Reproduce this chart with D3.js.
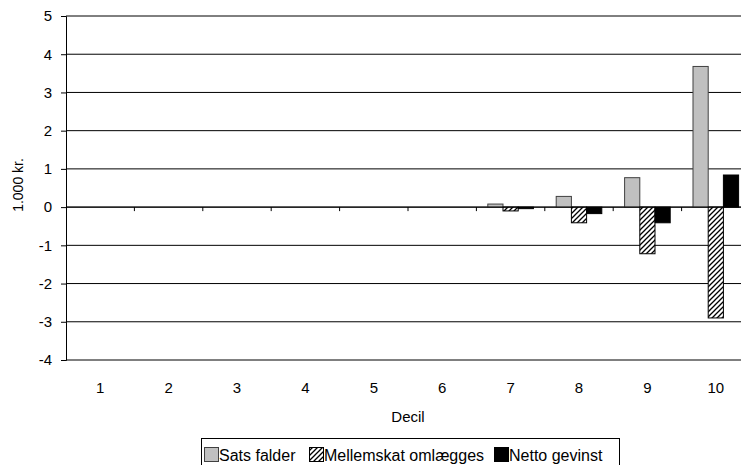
<!DOCTYPE html>
<html><head><meta charset="utf-8">
<script src="https://cdn.jsdelivr.net/npm/d3@7"></script>
<style>
body{margin:0;background:#fff;}
svg{display:block;font-family:"Liberation Sans",Arial,sans-serif;}
</style></head>
<body><svg id="c" width="741" height="465"></svg>
<script>
const deciles = ["1","2","3","4","5","6","7","8","9","10"];
const seriesNames = ["Sats falder","Mellemskat omlægges","Netto gevinst"];
const satsFalder = [0,0,0,0,0,0,0.08,0.28,0.77,3.68];
const mellemskat = [0,0,0,0,0,0,-0.10,-0.41,-1.22,-2.90];
const netto = [0,0,0,0,0,0,-0.04,-0.17,-0.41,0.84];
const yTicks = [-4,-3,-2,-1,0,1,2,3,4,5];

const svg = d3.select("#c");
const L=66, R=750, T=16, B=360;
const FONT = "Liberation Sans, Arial, sans-serif";
const defs = svg.append("defs");
const pat = defs.append("pattern").attr("id","hatch").attr("patternUnits","userSpaceOnUse")
  .attr("width",5).attr("height",5);
pat.append("rect").attr("width",5).attr("height",5).attr("fill","#fff");
pat.append("path").attr("d","M-1,1 l2,-2 M0,5 l5,-5 M4,6 l2,-2").attr("stroke","#000").attr("stroke-width",1.3);

const x = d3.scaleBand().domain(deciles).range([L,R]).padding(0);
const y = d3.scaleLinear().domain([-4,5]).range([B,T]);
const inner = d3.scaleBand().domain(seriesNames).range([0,x.bandwidth()]).paddingInner(0).paddingOuter(0.75);

// gridlines
svg.append("g").selectAll("line").data(yTicks).join("line")
  .attr("x1",L).attr("x2",R).attr("y1",d=>y(d)).attr("y2",d=>y(d))
  .attr("stroke","#000").attr("stroke-width",1);

// y axis
const ya = svg.append("g").attr("transform",`translate(${L},0)`)
  .call(d3.axisLeft(y).tickValues(yTicks).tickSize(5).tickPadding(9).tickFormat(d=>String(d)));
ya.attr("font-size",null).attr("font-family",null);
ya.select(".domain").attr("stroke","#000");
ya.selectAll("text").attr("font-size",15).attr("font-family",FONT).attr("fill","#000");

// bars
const series = [
  {name:seriesNames[0], vals:satsFalder, fill:"#c0c0c0", stroke:"#404040"},
  {name:seriesNames[1], vals:mellemskat, fill:"url(#hatch)", stroke:"#000"},
  {name:seriesNames[2], vals:netto, fill:"#000", stroke:"#000"}
];
series.forEach(s=>{
  svg.append("g").selectAll("rect").data(deciles.map((d,i)=>({d,v:s.vals[i]})).filter(o=>o.v!==0)).join("rect")
    .attr("x",o=>x(o.d)+inner(s.name))
    .attr("width",inner.bandwidth())
    .attr("y",o=>y(Math.max(0,o.v)))
    .attr("height",o=>Math.abs(y(o.v)-y(0)))
    .attr("fill",s.fill).attr("stroke",s.stroke).attr("stroke-width",1);
});

// x axis at zero
const xa = svg.append("g").attr("transform",`translate(0,${y(0)})`);
xa.append("line").attr("x1",L).attr("x2",R).attr("stroke","#000");
xa.selectAll("line.t").data(deciles.slice(1)).join("line").attr("class","t")
  .attr("x1",d=>x(d)).attr("x2",d=>x(d)).attr("y1",0).attr("y2",4).attr("stroke","#000");

// x labels at bottom
svg.append("g").selectAll("text").data(deciles).join("text")
  .attr("x",d=>x(d)+x.bandwidth()/2).attr("y",393)
  .attr("text-anchor","middle").attr("font-size",15).text(d=>d);

svg.append("text").attr("x",(L+R)/2).attr("y",422).attr("text-anchor","middle").attr("font-size",15).text("Decil");
svg.append("text").attr("transform",`translate(23,${(T+B)/2-3}) rotate(-90)`).attr("text-anchor","middle").attr("font-size",14).text("1.000 kr.");

// legend
const lg = svg.append("g");
lg.append("rect").attr("x",201.5).attr("y",438.5).attr("width",418).attr("height",32).attr("fill","#fff").attr("stroke","#000");
const legX = [204, 309, 494];
series.forEach((s,i)=>{
  lg.append("rect").attr("x",legX[i]+0.5).attr("y",447.5).attr("width",14).attr("height",14)
    .attr("fill",s.fill).attr("stroke",i===0?"#404040":"#000");
  lg.append("text").attr("x",legX[i]+15).attr("y",461).attr("font-size",16).text(s.name);
});
</script></body></html>
